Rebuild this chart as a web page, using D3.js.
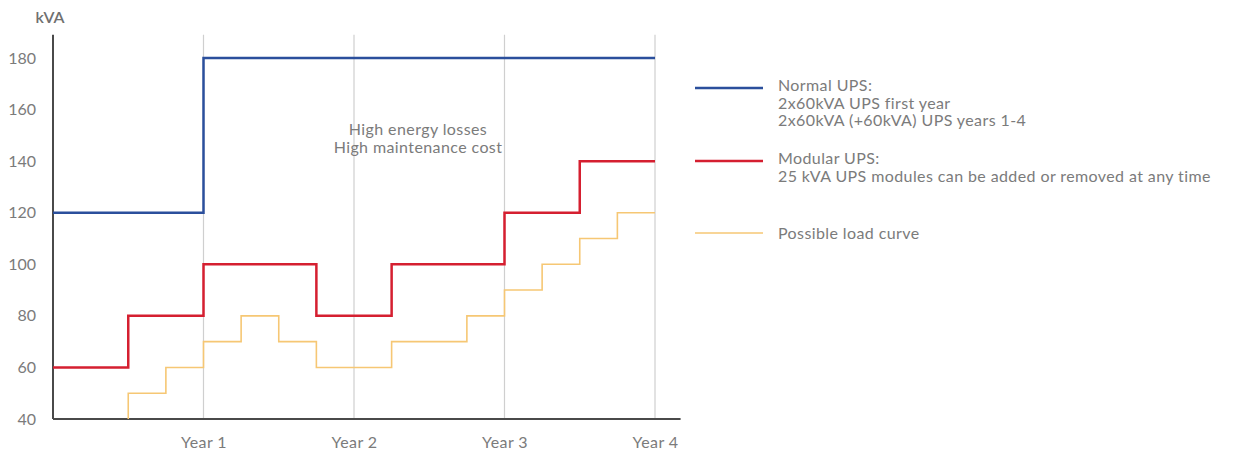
<!DOCTYPE html>
<html>
<head>
<meta charset="utf-8">
<script src="https://cdn.jsdelivr.net/npm/d3@7"></script>
<style>
  body { margin: 0; background: #fff; }
  svg text { font-family: Lato, "Open Sans", sans-serif; fill: #7b7b7b; }
</style>
</head>
<body>
<svg width="1239" height="454"></svg>
<script>
// Chart data (years on x, kVA on y)
const yTicks = [40, 60, 80, 100, 120, 140, 160, 180];
const yearTicks = [1, 2, 3, 4];
const yearLabels = ["Year 1", "Year 2", "Year 3", "Year 4"];

const normalX = [0, 1, 4];
const normalY = [120, 180, 180];

const modularX = [0, 0.5, 1, 1.75, 2.25, 3, 3.5, 4];
const modularY = [60, 80, 100, 80, 100, 120, 140, 140];

const loadX = [0.5, 0.5, 0.75, 1, 1.25, 1.5, 1.75, 2.25, 2.75, 3, 3.25, 3.5, 3.75, 4];
const loadY = [40, 50, 60, 70, 80, 70, 60, 70, 80, 90, 100, 110, 120, 120];

const series = [
    { name: "normal", xs: normalX, ys: normalY, color: "#2b4f9c", width: 2.5,
      legend: ["Normal UPS:", "2x60kVA UPS first year", "2x60kVA (+60kVA) UPS years 1-4"] },
    { name: "modular", xs: modularX, ys: modularY, color: "#d51f30", width: 2.5,
      legend: ["Modular UPS:", "25 kVA UPS modules can be added or removed at any time"] },
    { name: "load", xs: loadX, ys: loadY, color: "#f6c774", width: 1.6,
      legend: ["Possible load curve"] }
];

const note = ["High energy losses", "High maintenance cost"];

const svg = d3.select("svg");

const x = d3.scaleLinear().domain([0, 4]).range([53, 655]);
const y = d3.scaleLinear().domain([40, 180]).range([419, 58]);

// vertical year grid lines
svg.append("g")
    .selectAll("line")
    .data(yearTicks)
    .join("line")
    .attr("x1", d => x(d)).attr("x2", d => x(d))
    .attr("y1", y(189)).attr("y2", y(40))
    .attr("stroke", "#cfcfcf")
    .attr("stroke-width", 1.2);

// y axis
const yAxis = svg.append("g")
    .attr("transform", `translate(${x(0)},0)`)
    .call(d3.axisLeft(y).tickValues(yTicks).tickSize(0).tickPadding(17));
yAxis.select(".domain").remove();
yAxis.selectAll("text").style("font-size", "16px").attr("fill", "#7b7b7b");

svg.append("line")
    .attr("x1", x(0)).attr("x2", x(0))
    .attr("y1", y(189)).attr("y2", y(40))
    .attr("stroke", "#4a4a4a").attr("stroke-width", 2);

// x axis
const xAxis = svg.append("g")
    .attr("transform", `translate(0,${y(40)})`)
    .call(d3.axisBottom(x).tickValues(yearTicks)
        .tickFormat((d, i) => yearLabels[i]).tickSize(0).tickPadding(18));
xAxis.select(".domain").remove();
xAxis.selectAll("text")
    .style("font-size", "16px")
    .style("letter-spacing", "0.4px")
    .attr("fill", "#7b7b7b");

svg.append("line")
    .attr("x1", x(0)).attr("x2", x(4.17))
    .attr("y1", y(40)).attr("y2", y(40))
    .attr("stroke", "#4a4a4a").attr("stroke-width", 2);

svg.append("text")
    .attr("x", 50).attr("y", 23)
    .attr("text-anchor", "middle")
    .style("font-size", "16px")
    .style("font-weight", "600")
    .style("fill", "#707070")
    .text("kVA");

// step lines
const line = d3.line()
    .x(d => x(d[0]))
    .y(d => y(d[1]))
    .curve(d3.curveStepAfter);

svg.append("g")
    .selectAll("path")
    .data(series.slice().reverse())
    .join("path")
    .attr("fill", "none")
    .attr("stroke", d => d.color)
    .attr("stroke-width", d => d.width)
    .attr("d", d => line(d.xs.map((v, i) => [v, d.ys[i]])));

// annotation
svg.append("text")
    .attr("x", 418).attr("y", 135)
    .attr("text-anchor", "middle")
    .style("font-size", "16px")
    .style("letter-spacing", "0.4px")
    .selectAll("tspan")
    .data(note)
    .join("tspan")
    .attr("x", 418)
    .attr("dy", (d, i) => i === 0 ? 0 : 18)
    .text(d => d);

// legend
const legendY = [88, 161, 233];
const textOffset = [3, 3, 6];
const lg = svg.append("g");
series.forEach((s, k) => {
    lg.append("line")
        .attr("x1", 695).attr("x2", 763)
        .attr("y1", legendY[k]).attr("y2", legendY[k])
        .attr("stroke", s.color)
        .attr("stroke-width", s.name === "load" ? 1.6 : 2.5);
    lg.append("text")
        .attr("x", 778).attr("y", legendY[k] + textOffset[k])
        .style("font-size", "16px")
        .style("letter-spacing", "0.4px")
        .selectAll("tspan")
        .data(s.legend)
        .join("tspan")
        .attr("x", 778)
        .attr("dy", (d, i) => i === 0 ? 0 : 17.5)
        .text(d => d);
});
</script>
</body>
</html>
